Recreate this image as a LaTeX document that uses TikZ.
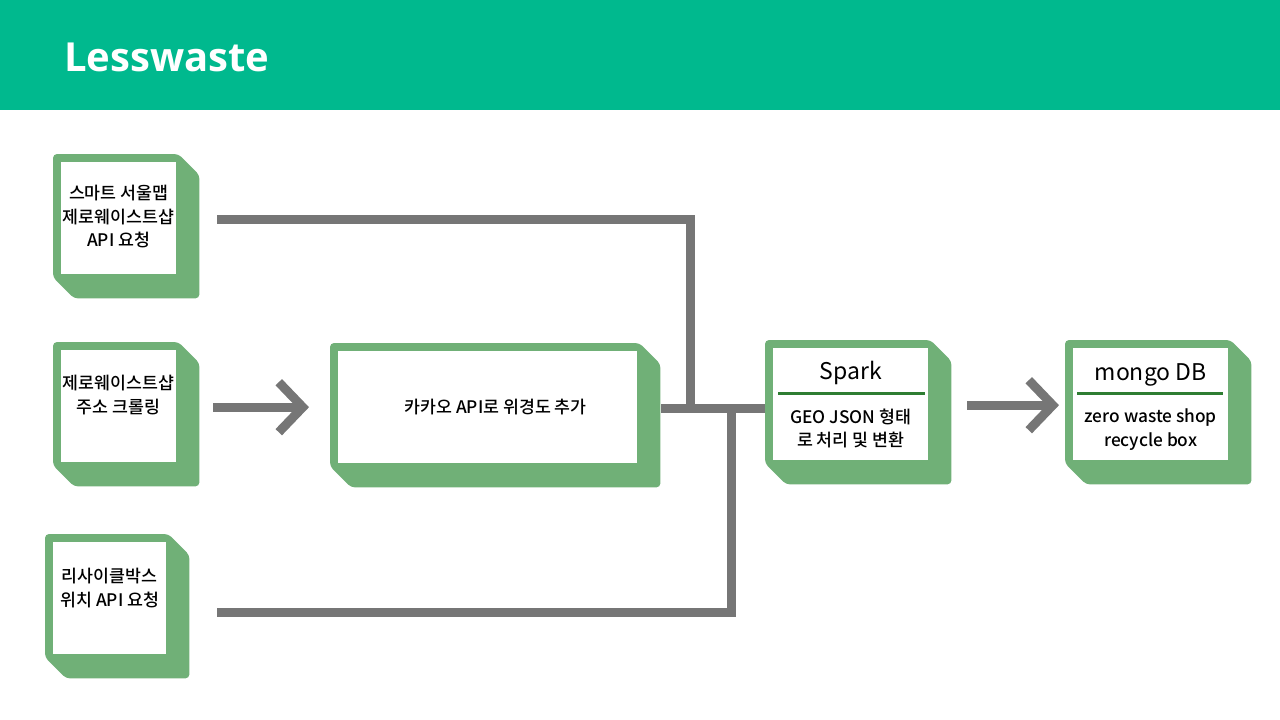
\documentclass[tikz,border=0pt]{standalone}
\usepackage{fontspec}
\setmainfont{Noto Sans CJK KR}[UprightFont=* Medium]
\newfontfamily\ttlfont{Noto Sans CJK KR}
\newfontfamily\titlefont{Open Sans}
\usepackage{tikz}
\usetikzlibrary{calc,positioning}
\usetikzlibrary{arrows.meta,backgrounds}

\definecolor{headgreen}{RGB}{0,185,142}
\definecolor{boxgreen}{RGB}{112,176,119}
\definecolor{rulegreen}{RGB}{46,125,50}
\definecolor{pipegray}{RGB}{118,118,118}

\begin{document}
\begin{tikzpicture}[x=1pt, y=-1pt,
	wbox/.style={fill=white, inner sep=0pt, minimum height=112pt, anchor=north west},
	txt/.style={align=center, inner sep=0pt, font=\fontsize{17.3}{23.5}\selectfont},
	ttl/.style={inner sep=0pt, font=\ttlfont\fontsize{23}{27}\selectfont},
	pipe/.style={draw=pipegray, line width=9pt},
	arr/.style={pipe, -{Straight Barb[length=24pt, width=50pt]}},
	rulebar/.style={draw=rulegreen, line width=3pt}]
	\useasboundingbox (0,0) rectangle (1280,720);
	
	% header
	\fill[headgreen] (0,0) rectangle (1280,110);
	\node[anchor=west, inner sep=0pt, text=white, font=\titlefont\bfseries\fontsize{40}{48}\selectfont] (title) at (64,57) {Lesswaste};
	
	% white boxes
	\node[wbox, minimum width=115pt] (smart) at (61,162) {};
	\node[wbox, minimum width=115pt] (crawl) at (61,350) {};
	\node[wbox, minimum width=113pt] (recycle) at (53,542) {};
	\node[wbox, txt, minimum width=299pt, minimum height=112pt] (kakao) at (338,351) {\hspace*{16pt}카카오 API로 위경도 추가};
	\node[wbox, minimum width=155pt] (spark) at (773,348) {};
	\node[wbox, minimum width=155pt] (mongo) at (1073,348) {};
	
	% green plates behind the white boxes
	\begin{scope}[on background layer]
	\foreach \b in {smart,crawl,recycle,kakao,spark,mongo}
		\fill[boxgreen, rounded corners=4pt]
		($(\b.north west)+(-8,-8)$) -- ($(\b.north east)+(2,-8)$)
		-- ($(\b.north east)+(23,13)$) -- ($(\b.south east)+(23,24)$)
		-- ($(\b.south west)+(13,24)$) -- ($(\b.south west)+(-8,3)$) -- cycle;
	\end{scope}
	
	% texts of the sources
	\node[txt, below=23pt of smart.north] (smart-txt) {스마트 서울맵\\제로웨이스트샵\\API 요청};
	\node[txt, below=25pt of crawl.north] (crawl-txt) {제로웨이스트샵\\주소 크롤링};
	\node[txt, below=26pt of recycle.north] (recycle-txt) {리사이클박스\\위치 API 요청};
	
	% spark box
	\node[ttl] (spark-ttl) at ($(spark.north)+(0,25)$) {Spark};
	\draw[rulebar] ($(spark.north west)+(5,45)$) -- ($(spark.north east)+(-3,45)$);
	\node[txt] (spark-txt) at ($(spark.north)+(0,80.5)$) {GEO JSON 형태\\로 처리 및 변환};
	
	% mongo box
	\node[ttl] (mongo-ttl) at ($(mongo.north)+(0,27)$) {mongo DB};
	\draw[rulebar] ($(mongo.north west)+(4,45)$) -- ($(mongo.north east)+(-5,45)$);
	\node[txt] (mongo-txt) at ($(mongo.north)+(0,81.5)$) {zero waste shop\\recycle box};
	
	% pipe ends
	\coordinate (smart-out) at ($(smart.east)+(41,1)$);
	\coordinate (recycle-out) at ($(recycle.east)+(51,14)$);
	\coordinate (crawl-out) at ($(crawl.east)+(37,1)$);
	\coordinate (kakao-in) at ($(kakao.west)+(-29,0)$);
	\coordinate (kakao-out) at ($(kakao.east)+(24,1)$);
	\coordinate (join-a) at ($(kakao.east)+(53,1)$);
	\coordinate (join-b) at ($(kakao.east)+(94,1)$);
	\coordinate (spark-in) at ($(spark.west)+(-8,0)$);
	\coordinate (spark-out) at ($(spark.east)+(39,1)$);
	\coordinate (mongo-in) at ($(mongo.west)+(-14,1)$);
	
	% connectors
	\draw[pipe] (smart-out) -| (join-a);
	\draw[pipe] (recycle-out) -| (join-b);
	\draw[pipe] (kakao-out) -- (kakao-out -| spark-in);
	\draw[arr] (crawl-out) -- (kakao-in);
	\draw[arr] (spark-out) -- (mongo-in);
\end{tikzpicture}
\end{document}
